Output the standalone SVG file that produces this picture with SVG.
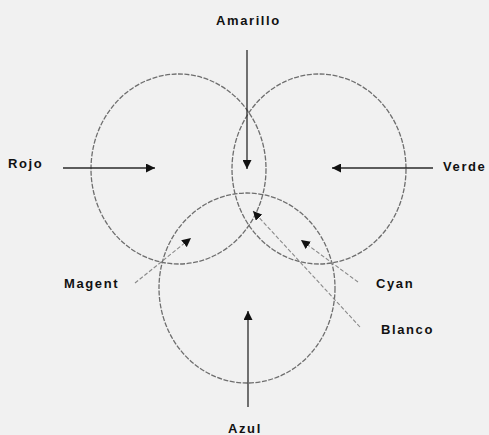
<svg xmlns="http://www.w3.org/2000/svg" width="489" height="435" viewBox="0 0 489 435">
<style>
.bg{fill:#f1f1f1}
.c{fill:none;stroke:#6e6e6e;stroke-width:1.3;stroke-dasharray:5 1.5}
.a{fill:none;stroke:#2a2a2a;stroke-width:1.3}
.d{fill:none;stroke:#8a8a8a;stroke-width:1.1;stroke-dasharray:4 2}
text{font-family:"Liberation Sans",Arial,sans-serif;font-weight:bold;font-size:13px;fill:#111;letter-spacing:1.6px}
</style>
<defs>
<marker id="ah" viewBox="0 0 10 10" refX="10" refY="5" markerWidth="9" markerHeight="9" markerUnits="userSpaceOnUse" orient="auto">
<path d="M0,0 L10,5 L0,10 Z" fill="#111"/>
</marker>
</defs>
<rect class="bg" x="0" y="0" width="489" height="435"/>
<g id="rojo"><ellipse class="c" cx="178.5" cy="169" rx="87.5" ry="95"/><text x="8" y="168">Rojo</text></g>
<g id="verde"><ellipse class="c" cx="319" cy="169" rx="87" ry="95"/><text x="443" y="171">Verde</text></g>
<g id="azul"><ellipse class="c" cx="247" cy="288" rx="88" ry="95"/><text x="228" y="433">Azul</text></g>
<g id="amarillo"><text x="216" y="25">Amarillo</text></g>
<g id="magent"><text x="64" y="288">Magent</text></g>
<g id="cyan"><text x="376" y="288">Cyan</text></g>
<g id="blanco"><text x="381" y="334">Blanco</text></g>
<g id="connectors">
<line class="a" x1="247" y1="50" x2="247" y2="169" marker-end="url(#ah)"/>
<line class="a" x1="63" y1="168" x2="155" y2="168" marker-end="url(#ah)"/>
<line class="a" x1="433" y1="168" x2="332" y2="168" marker-end="url(#ah)"/>
<line class="a" x1="248" y1="407" x2="248" y2="311" marker-end="url(#ah)"/>
<line class="d" x1="135" y1="283" x2="191" y2="238" marker-end="url(#ah)"/>
<line class="d" x1="358" y1="282" x2="301" y2="240" marker-end="url(#ah)"/>
<line class="d" x1="360" y1="327" x2="253" y2="211" marker-end="url(#ah)"/>
</g>
</svg>
